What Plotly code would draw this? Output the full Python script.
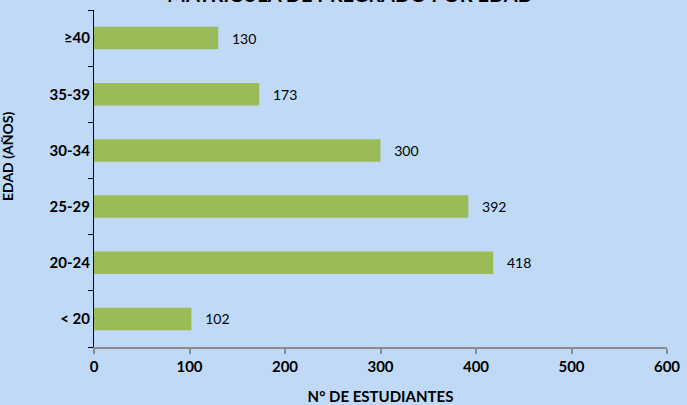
import plotly.graph_objects as go

categories = ["< 20", "20-24", "25-29", "30-34", "35-39", "≥40"]
values = [102, 418, 392, 300, 173, 130]
x_ticks = [0, 100, 200, 300, 400, 500, 600]

FONT = "Lato, 'Open Sans', sans-serif"

fig = go.Figure(go.Bar(
    x=values,
    y=categories,
    orientation="h",
    marker=dict(color="#9BBB59", line=dict(width=0)),
    width=0.4,
    text=["\u00a0\u00a0\u00a0" + str(v) for v in values],
    textposition="outside",
    textfont=dict(family=FONT, size=14, color="#000000"),
    cliponaxis=False,
))

fig.update_layout(
    width=687, height=405,
    margin=dict(l=94, r=20, t=10, b=58, autoexpand=False),
    paper_bgcolor="#BFD9F7",
    plot_bgcolor="rgba(0,0,0,0)",
    showlegend=False,
    xaxis=dict(range=[0, 600], tickvals=x_ticks, showgrid=False, zeroline=False,
               automargin=False,
               showline=True, linecolor="#8C8C8C", linewidth=2,
               ticks="outside", ticklen=5, tickcolor="#8C8C8C", tickwidth=2,
               tickfont=dict(family=FONT, size=15, color="#000000", weight="bold"),
               title=dict(text="<b>N° DE ESTUDIANTES</b>", standoff=17,
                          font=dict(family=FONT, size=15, color="#000000"))),
    yaxis=dict(type="category", categoryorder="array", categoryarray=categories,
               range=[-0.5, 5.5], showgrid=False, zeroline=False,
               automargin=False,
               showline=True, linecolor="#000000", linewidth=1,
               ticks="outside", ticklen=5, tickcolor="#000000", tickson="boundaries",
               tickfont=dict(family=FONT, size=15, color="#000000", weight="bold"),
               title=dict(text="")),
    annotations=[
        dict(text="<b>MATRÍCULA DE PREGRADO POR EDAD</b>",
             xref="paper", yref="paper", x=0.447, y=1.0,
             xanchor="center", yanchor="bottom", yshift=2,
             showarrow=False,
             font=dict(family=FONT, size=20, color="#000000")),
        dict(text="<b>EDAD (AÑOS)</b>", textangle=-90,
             xref="paper", yref="paper", x=-0.150, y=0.564,
             xanchor="center", yanchor="middle",
             showarrow=False,
             font=dict(family=FONT, size=14, color="#000000")),
    ],
)

fig.write_html("out.html", config={"displayModeBar": False},
               post_script="document.body.style.margin='0';document.body.style.background='#BFD9F7';")
